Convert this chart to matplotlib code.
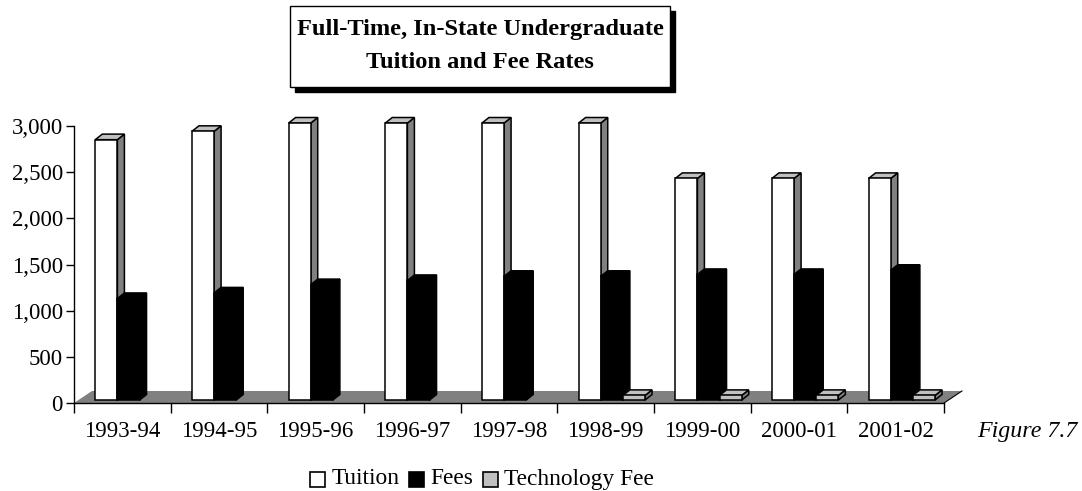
import matplotlib
matplotlib.use("Agg")
import matplotlib.pyplot as plt
from matplotlib.legend_handler import HandlerPatch
from matplotlib.patches import Polygon, Rectangle, Patch

plt.rcParams['font.family'] = ['Liberation Serif', 'DejaVu Serif']

# dati
years = ['1993-94', '1994-95', '1995-96', '1996-97', '1997-98', '1998-99', '1999-00', '2000-01', '2001-02']
tuition = [2820, 2910, 3000, 3000, 3000, 3000, 2400, 2400, 2400]
fees = [1100, 1160, 1250, 1295, 1340, 1340, 1360, 1360, 1405]
tech_fee = [0, 0, 0, 0, 0, 50, 50, 50, 50]
y_ticks = [0, 500, 1000, 1500, 2000, 2500, 3000]

W, H = 1082, 491
fig = plt.figure(figsize=(W / 100, H / 100), dpi=100)
# assi in pixel: x da 74 a 944, y da 403 a 126
ax = fig.add_axes([74 / W, 1 - 403 / H, 870 / W, 277 / H])
ax.set_xlim(0, 9)
ax.set_ylim(0, 3000)
ax.patch.set_alpha(0)

# effetto 3D, in unita dei dati
bar_w = 0.229
bar_start = 0.22
dx = 0.0725
dy = 60
lift = 32
floor_dx = 0.186
floor_dy = 130


def bar3d(x, v, front, top, side):
    y0 = lift
    y1 = lift + v
    w = bar_w
    ax.add_patch(Polygon([(x + w, y0), (x + w + dx, y0 + dy), (x + w + dx, y1 + dy), (x + w, y1)],
                         fc=side, ec='black', lw=1.1, clip_on=False, zorder=3))
    ax.add_patch(Polygon([(x, y1), (x + dx, y1 + dy), (x + w + dx, y1 + dy), (x + w, y1)],
                         fc=top, ec='black', lw=1.1, clip_on=False, zorder=3))
    ax.add_patch(Rectangle((x, y0), w, v, fc=front, ec='black', lw=1.1, clip_on=False, zorder=3))


# i quadratini della legenda stanno un po' sotto la linea del testo
def low_square(legend, orig_handle, xdescent, ydescent, width, height, fontsize):
    return Rectangle((-xdescent, -ydescent - 2.2), width, height)


# pavimento grigio
ax.add_patch(Polygon([(0, 0), (9, 0), (9 + floor_dx, floor_dy), (floor_dx, floor_dy)],
                     fc='#808080', ec='none', clip_on=False, zorder=1))
ax.plot([9, 9 + floor_dx], [0, floor_dy], color='black', lw=0.8, clip_on=False, zorder=1)

for i in range(len(years)):
    # da sinistra a destra: fees sta davanti al lato di tuition
    x0 = i + bar_start
    bar3d(x0, tuition[i], 'white', '#c0c0c0', '#808080')
    bar3d(x0 + bar_w, fees[i], 'black', 'black', 'black')
    if tech_fee[i] > 0:
        bar3d(x0 + 2 * bar_w, tech_fee[i], '#c0c0c0', '#c0c0c0', '#808080')

for s in ['top', 'right']:
    ax.spines[s].set_visible(False)
for s in ['left', 'bottom']:
    ax.spines[s].set_linewidth(1.0)
    ax.spines[s].set_zorder(5)

ax.set_yticks(y_ticks)
ax.set_yticklabels([f'{v:,}' for v in y_ticks], fontsize=16.5)
for lab in ax.get_yticklabels():
    lab.set_va('center_baseline')
ax.set_xticks(range(len(years) + 1))
ax.set_xticklabels([])
ax.tick_params(axis='y', length=6, width=1.0, pad=2)
ax.tick_params(axis='x', length=7, width=1.0)
for i, y in enumerate(years):
    ax.text(i + 0.5, -305, y, ha='center', va='center', fontsize=16.5)

# titolo con ombra
fig.add_artist(Rectangle((295 / W, 1 - 92 / H), 380 / W, 81 / H, fc='black', ec='black',
                         transform=fig.transFigure))
fig.add_artist(Rectangle((290 / W, 1 - 87 / H), 380 / W, 81 / H, fc='white', ec='black', lw=1.0,
                         transform=fig.transFigure))
fig.text(480 / W, 1 - 29 / H, 'Full-Time, In-State Undergraduate', ha='center', va='center',
         fontsize=17.6, fontweight='bold')
fig.text(480 / W, 1 - 63 / H, 'Tuition and Fee Rates', ha='center', va='center',
         fontsize=17.6, fontweight='bold')

fig.text(1027 / W, 1 - 432 / H, 'Figure 7.7', ha='center', va='center', fontsize=17.3, style='italic')

handles = [Patch(fc='white', ec='black', lw=1.2), Patch(fc='black', ec='black', lw=1.2),
           Patch(fc='#c0c0c0', ec='black', lw=1.2)]
fig.legend(handles, ['Tuition', 'Fees', 'Technology Fee'], loc='center', ncol=3,
           bbox_to_anchor=(482 / W, 1 - 479 / H), frameon=False, fontsize=16.8,
           handlelength=0.65, handleheight=0.65, handletextpad=0.26, columnspacing=0.42,
           handler_map={Patch: HandlerPatch(patch_func=low_square)})

fig.savefig('out.png', dpi=100)
